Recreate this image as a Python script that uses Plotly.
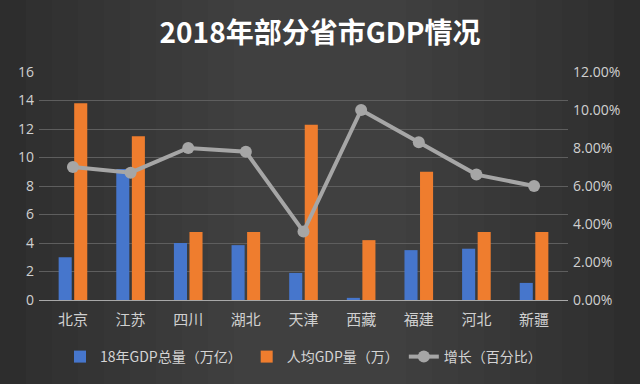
import plotly.graph_objects as go

categories = ["北京", "江苏", "四川", "湖北", "天津", "西藏", "福建", "河北", "新疆"]
gdp_total = [3.0, 9.2, 4.0, 3.85, 1.9, 0.15, 3.5, 3.6, 1.2]
gdp_per_capita = [13.8, 11.5, 4.77, 4.77, 12.3, 4.2, 9.0, 4.77, 4.77]
growth = [0.070, 0.067, 0.080, 0.078, 0.036, 0.100, 0.083, 0.066, 0.060]

W, H = 640, 384
L, R, T, B = 39, 72, 72, 84
pw, ph = W - L - R, H - T - B

def px_x(x):
    return (x - L) / pw

def px_y(y):
    return (H - B - y) / ph

fig = go.Figure()
fig.add_trace(go.Bar(x=categories, y=gdp_total, name="18年GDP总量（万亿）",
                     marker=dict(color="#4676cc", line=dict(width=0))))
fig.add_trace(go.Bar(x=categories, y=gdp_per_capita, name="人均GDP量（万）",
                     marker=dict(color="#ef7d2e", line=dict(width=0))))
fig.add_trace(go.Scatter(x=categories, y=growth, name="增长（百分比）", yaxis="y2",
                         mode="lines+markers",
                         line=dict(color="#a6a6a6", width=4),
                         marker=dict(color="#a6a6a6", size=12)))

# background vignette (lighter centre, darker sides)
shapes = []
n = 10
for i in range(n):
    f = i / n
    x0 = 0 + f * 260
    x1 = W - f * 260
    shapes.append(dict(type="rect", xref="paper", yref="paper",
                       x0=px_x(x0), x1=px_x(x1), y0=px_y(H), y1=px_y(0),
                       fillcolor="#6a6a6a", opacity=0.045, line=dict(width=0),
                       layer="below"))

fig.update_layout(
    width=W, height=H,
    margin=dict(l=L, r=R, t=T, b=B, autoexpand=False),
    paper_bgcolor="#2a2a2a",
    plot_bgcolor="rgba(0,0,0,0)",
    shapes=shapes,
    title=dict(text="<b>2018年部分省市GDP情况</b>", x=0.5, xanchor="center",
               y=1 - 33 / H, yanchor="middle",
               font=dict(family="Noto Sans CJK SC", size=28, color="#ffffff")),
    font=dict(family="Noto Sans CJK SC", color="#d4d4d4"),
    barmode="group", bargap=0.46, bargroupgap=0.16,
    xaxis=dict(showgrid=False, showline=True, linecolor="#a8a8a8", linewidth=1,
               tickfont=dict(size=15, color="#d0d0d0"), ticks="", ticklabelstandoff=6),
    yaxis=dict(range=[0, 16], dtick=2, showgrid=True, gridcolor="#5e5e5e", gridwidth=1,
               zeroline=False, tickfont=dict(family="Open Sans", size=14, color="#d0d0d0"),
               ticklabelstandoff=4),
    yaxis2=dict(range=[0, 0.12], dtick=0.02, tickformat=".2%", overlaying="y", side="right",
                showgrid=False, zeroline=False,
                tickfont=dict(family="Open Sans", size=14, color="#d0d0d0"),
                ticklabelstandoff=4),
    legend=dict(orientation="h", x=0.5, xanchor="center", y=px_y(357), yanchor="middle",
                font=dict(size=14, color="#d4d4d4"), bgcolor="rgba(0,0,0,0)",
                itemwidth=30, traceorder="normal"),
    showlegend=True,
)

fig.write_html("out.html", config={"displayModeBar": False},
               post_script="document.body.style.margin='0';document.body.style.background='#2a2a2a';")
